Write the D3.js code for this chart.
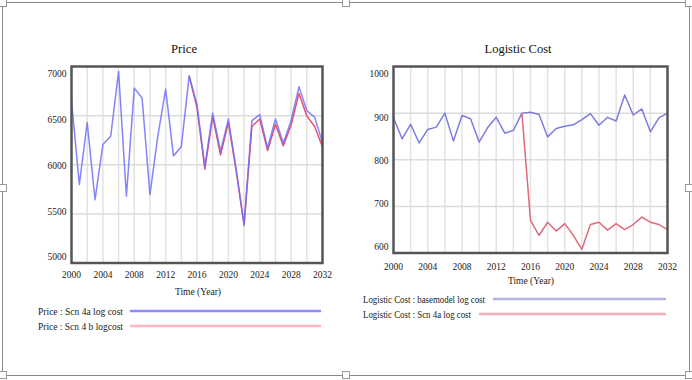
<!DOCTYPE html>
<html><head><meta charset="utf-8">
<script src="https://cdn.jsdelivr.net/npm/d3@7"></script>
<style>html,body{margin:0;padding:0;background:#fff;}svg{display:block;}</style>
</head><body>
<svg id="c" width="692" height="380"></svg>
<script>
const years = d3.range(2000, 2033);
const priceTicksY = [5000, 5500, 6000, 6500, 7000];
const costTicksY = [600, 700, 800, 900, 1000];
const xTickLabels = [2000, 2004, 2008, 2012, 2016, 2020, 2024, 2028, 2032];
const scenarioStart = 2015;

const priceScn4a = [6650, 5800, 6430, 5645, 6205, 6290, 6950, 5680, 6780, 6680, 5695, 6290, 6770, 6090, 6185, 6905,
  6610, 5985, 6525, 6135, 6465, 5950, 5390, 6450, 6510, 6170, 6465, 6220, 6450, 6795, 6550, 6485, 6225];
const priceScn4b = [6650, 5800, 6430, 5645, 6205, 6290, 6950, 5680, 6780, 6680, 5695, 6290, 6770, 6090, 6185, 6905,
  6580, 5955, 6490, 6100, 6430, 5935, 5385, 6390, 6465, 6145, 6412, 6193, 6405, 6726, 6497, 6390, 6180];

const costBase = [890, 845, 876, 836, 865, 870, 900, 840, 895, 888, 838, 869, 891, 857, 863, 900,
  902, 897, 849, 867, 872, 875, 886, 899, 874, 891, 883, 939, 896, 909, 860, 890, 900];
const costScn4a = [890, 845, 876, 836, 865, 870, 900, 840, 895, 888, 838, 869, 891, 857, 863, 900,
  670, 638, 666, 647, 663, 638, 608, 661, 666, 649, 663, 650, 661, 677, 666, 661, 650];

const svg = d3.select("#c");
const FONT = "'Liberation Serif','Times New Roman',serif";

// outer picture frame with handles
svg.append("rect").attr("x", 2.5).attr("y", 2.5).attr("width", 687).attr("height", 373)
  .attr("fill", "none").attr("stroke", "#8a8a8a").attr("stroke-width", 1);
[[3,3],[346,3],[689,3],[3,188],[689,188],[3,375],[346,375],[689,375]].forEach(([hx,hy]) => {
  svg.append("rect").attr("x", hx - 3.5).attr("y", hy - 3.5).attr("width", 7).attr("height", 7)
    .attr("fill", "#fff").attr("stroke", "#999").attr("stroke-width", 1);
});

function panel(cfg) {
  const g = svg.append("g");
  const x = d3.scaleLinear().domain([2000, 2032]).range([cfg.left, cfg.right]);
  const y = d3.scaleLinear().domain(cfg.yDomain).range([cfg.bottom, cfg.top]);
  const yLab = d3.scaleLinear().domain(cfg.yDomain).range(cfg.labelRange);

  // grid
  g.append("g").selectAll("line").data(d3.range(2002, 2032, 2)).join("line")
    .attr("x1", d => x(d)).attr("x2", d => x(d)).attr("y1", cfg.top).attr("y2", cfg.bottom)
    .attr("stroke", "#e2e2e2").attr("stroke-width", 1.5);
  g.append("g").selectAll("line").data(cfg.yTicks.slice(1, -1)).join("line")
    .attr("x1", cfg.left).attr("x2", cfg.right).attr("y1", d => y(d)).attr("y2", d => y(d))
    .attr("stroke", "#dcdcdc").attr("stroke-width", 1.5);

  // series
  cfg.series.forEach(s => {
    const line = d3.line()
      .defined((d, i) => years[i] >= (s.from || 2000))
      .x((d, i) => x(years[i])).y(d => y(d));
    g.append("path").datum(s.values).attr("d", line).attr("fill", "none")
      .attr("stroke", s.color).attr("stroke-width", 1.5).attr("stroke-opacity", s.opacity || 1)
      .attr("stroke-linejoin", "round");
  });

  // frame
  g.append("rect").attr("x", cfg.left).attr("y", cfg.top)
    .attr("width", cfg.right - cfg.left).attr("height", cfg.bottom - cfg.top)
    .attr("fill", "none").attr("stroke", "#555").attr("stroke-width", 2.5);

  // y labels
  g.append("g").selectAll("text").data(cfg.yTicks).join("text")
    .attr("x", cfg.left - 5).attr("y", d => yLab(d)).attr("dy", "0.35em")
    .attr("text-anchor", "end").attr("font-family", FONT).attr("font-size", 9.5).attr("fill", "#222")
    .text(d => d);
  // x labels
  g.append("g").selectAll("text").data(xTickLabels).join("text")
    .attr("x", d => x(d)).attr("y", cfg.xLabelY).attr("text-anchor", "middle")
    .attr("font-family", FONT).attr("font-size", 9.5).attr("fill", "#222").text(d => d);
  g.append("text").attr("x", cfg.axisTitleX).attr("y", cfg.axisTitleY).attr("text-anchor", "middle")
    .attr("font-family", FONT).attr("font-size", 9.5).attr("fill", "#222")
    .attr("textLength", 46).attr("lengthAdjust", "spacingAndGlyphs").text("Time (Year)");
  // title
  g.append("text").attr("x", cfg.titleX).attr("y", 53).attr("text-anchor", "middle")
    .attr("font-family", FONT).attr("font-size", 13).attr("fill", "#111")
    .attr("textLength", cfg.titleLen).attr("lengthAdjust", "spacingAndGlyphs").text(cfg.title);

  // legend
  cfg.legend.forEach(l => {
    g.append("text").attr("x", l.tx).attr("y", l.y).attr("dy", "0.35em")
      .attr("font-family", FONT).attr("font-size", 10).attr("fill", "#222")
      .attr("textLength", l.tlen).attr("lengthAdjust", "spacingAndGlyphs").text(l.label);
    g.append("line").attr("x1", l.x1).attr("x2", l.x2).attr("y1", l.y).attr("y2", l.y)
      .attr("stroke", l.color).attr("stroke-width", 2.5);
  });
}

panel({
  left: 71.5, right: 322.5, top: 66.5, bottom: 263,
  yDomain: [5000, 7000], yTicks: priceTicksY, labelRange: [257, 74],
  xLabelY: 278, axisTitleX: 198, axisTitleY: 295,
  title: "Price", titleX: 184, titleLen: 26,
  series: [
    { values: priceScn4b, color: "#e8506a", from: scenarioStart },
    { values: priceScn4a, color: "#6e6efa", opacity: 0.85 }
  ],
  legend: [
    { label: "Price : Scn 4a log cost", tx: 38, tlen: 85, x1: 130, x2: 321, y: 311, color: "#8c8cff" },
    { label: "Price : Scn 4 b logcost", tx: 38, tlen: 85, x1: 130, x2: 321, y: 326, color: "#ffb6bd" }
  ]
});

panel({
  left: 393.5, right: 667.5, top: 66.5, bottom: 253,
  yDomain: [600, 1000], yTicks: costTicksY, labelRange: [247, 74],
  xLabelY: 270, axisTitleX: 531, axisTitleY: 284,
  title: "Logistic Cost", titleX: 518, titleLen: 67,
  series: [
    { values: costScn4a, color: "#e06a7c", from: scenarioStart },
    { values: costBase, color: "#7c7ce0" }
  ],
  legend: [
    { label: "Logistic Cost : basemodel log cost", tx: 363, tlen: 122, x1: 493, x2: 666, y: 299, color: "#b4b4e2" },
    { label: "Logistic Cost : Scn 4a log cost", tx: 363, tlen: 108, x1: 479, x2: 666, y: 314, color: "#f4b0b8" }
  ]
});
</script>
</body></html>
